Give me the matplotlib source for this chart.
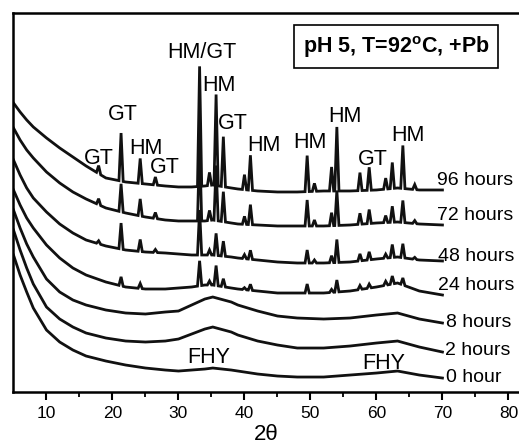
import matplotlib
matplotlib.use('Agg')
import matplotlib.pyplot as plt
import numpy as np

plt.rcParams['font.family'] = ['Liberation Sans', 'DejaVu Sans']
plt.rcParams['mathtext.fontset'] = 'custom'
plt.rcParams['mathtext.rm'] = 'Liberation Sans'
plt.rcParams['mathtext.bf'] = 'Liberation Sans:bold'

# background level read at these 2theta positions (arbitrary intensity units)
two_theta_bg = [5, 6, 7, 8, 10, 12, 14, 16, 19, 22, 25, 28, 30, 32, 34, 35.2,
                38, 39, 42, 45, 48, 52, 56, 60, 63.2, 66.5, 70]

bg_96h = [289, 280, 272, 265, 254, 244, 235, 226, 214, 210, 208, 206, 205, 205,
          206, 207, 204, 203, 201, 200, 200, 201, 201, 202, 204, 202, 202]
bg_72h = [264, 252, 242, 234, 220, 209, 200, 193, 184, 179, 175, 172, 171, 171,
          171, 172, 169, 168, 167, 166, 166, 166, 167, 169, 170, 168, 167]
bg_48h = [232, 217, 204, 194, 180, 168, 159, 152, 146, 142, 140, 139, 138, 137,
          137, 137, 135, 134, 132, 130, 129, 129, 130, 133, 135, 132, 131]
bg_24h = [202, 187, 174, 164, 147, 134, 124, 117, 110, 105, 103, 103, 104, 105,
          107, 107, 104, 103, 101, 99, 99, 99, 101, 105, 109, 101, 97]
bg_8h = [182, 164, 148, 135, 113, 100, 92, 87, 82, 79, 78, 80, 81, 87,
         93, 95, 90, 87, 81, 76, 74, 73, 74, 77, 79, 73, 69]
bg_2h = [162, 142, 124, 108, 85, 73, 65, 59, 54, 51, 50, 51, 53, 58,
         63, 65, 60, 57, 51, 47, 44, 44, 46, 49, 51, 45, 40]
bg_0h = [137, 117, 100, 84, 62, 50, 42, 36, 31, 27, 24, 22, 21, 22,
         23, 24, 22, 21, 18, 16, 15, 15, 17, 19, 21, 17, 14]

# reflections (2theta) and their heights above background for each sample
peak_pos = [17.9, 21.3, 24.2, 26.5, 33.2, 34.7, 35.7, 36.8, 40.0, 40.9,
            49.5, 50.6, 53.2, 54.0, 57.5, 58.9, 61.4, 62.4, 64.0, 65.8]
pk_96h = [8, 48, 25, 8, 120, 13, 91, 50, 15, 35, 36, 8, 24, 64, 18, 23, 11, 26, 43, 5]
pk_72h = [6, 28, 17, 6, 78, 10, 55, 30, 8, 20, 26, 6, 13, 35, 11, 14, 7, 16, 22, 3]
pk_48h = [3, 26, 12, 3, 45, 5, 22, 15, 4, 9, 13, 3, 7, 23, 7, 8, 4, 13, 14, 2]
pk_24h = [0, 9, 5, 0, 25, 4, 20, 8, 2, 6, 9, 0, 3, 12, 4, 4, 4, 8, 7, 0]

sample_labels = ['96 hours', '72 hours', '48 hours', '24 hours', '8 hours', '2 hours', '0 hour']
backgrounds = [bg_96h, bg_72h, bg_48h, bg_24h, bg_8h, bg_2h, bg_0h]
peak_sets = [pk_96h, pk_72h, pk_48h, pk_24h, None, None, None]

HALF_W = 0.32


def build_trace(bg, heights):
    x = np.array(two_theta_bg, dtype=float)
    y = np.array(bg, dtype=float)
    if heights is None:
        return x, y
    pos = np.array(peak_pos, dtype=float)
    h = np.array(heights, dtype=float)
    pos, h = pos[h > 0], h[h > 0]
    left = pos - HALF_W
    right = pos + HALF_W
    xs = np.concatenate([x, left, pos, right])
    ys = np.concatenate([y, np.interp(left, x, y), np.interp(pos, x, y) + h,
                         np.interp(right, x, y)])
    order = np.argsort(xs, kind='stable')
    return xs[order], ys[order]


fig = plt.figure(figsize=(5.19, 4.46), dpi=100)
ax = fig.add_axes([0.026, 0.121, 0.974, 0.850])

for label, bg, pk in zip(sample_labels, backgrounds, peak_sets):
    x, y = build_trace(bg, pk)
    ax.plot(x, y, color='#111111', lw=2.0, solid_joinstyle='miter')

# sample labels at right end of the traces
label_y = [211, 176, 135, 107, 70, 42, 15]
label_x = [69.2, 69.2, 69.4, 69.4, 70.5, 70.4, 70.6]
for txt, lx, ly in zip(sample_labels, label_x, label_y):
    ax.text(lx, ly, txt, fontsize=14, ha='left', va='center')

# phase assignments
phase_marks = [('GT', 17.9, 233), ('GT', 21.5, 277), ('HM', 25.0, 243),
               ('GT', 28.0, 224), ('HM/GT', 33.6, 339), ('HM', 36.1, 306),
               ('GT', 38.3, 268), ('HM', 42.9, 246), ('HM', 49.9, 249),
               ('HM', 55.2, 275), ('GT', 59.5, 232), ('HM', 64.8, 256),
               ('FHY', 34.6, 35), ('FHY', 61.1, 29)]
for txt, px, py in phase_marks:
    ax.text(px, py, txt, fontsize=15.5, ha='center', va='center')

ax.text(63.0, 345, r'pH 5, T=92$^{\mathbf{o}}$C, +Pb', fontsize=15.5, fontweight='bold',
        ha='center', va='center',
        bbox=dict(boxstyle='square,pad=0.4', fc='white', ec='black', lw=1.2))

ax.set_xlim(5, 81.6)
ax.set_ylim(0, 379)
ax.set_xticks(np.arange(10, 81, 10))
ax.set_xticks(np.arange(15, 81, 10), minor=True)
ax.set_yticks([])
ax.tick_params(axis='x', which='major', direction='out', length=6, width=1.5,
               labelsize=12.5, pad=4)
ax.tick_params(axis='x', which='minor', direction='out', length=3.5, width=1.3)
for side in ['left', 'bottom', 'top']:
    ax.spines[side].set_linewidth(1.8)
ax.spines['right'].set_visible(False)
ax.set_xlabel('2θ', fontsize=16, labelpad=2)

fig.savefig('out.png', dpi=100)
